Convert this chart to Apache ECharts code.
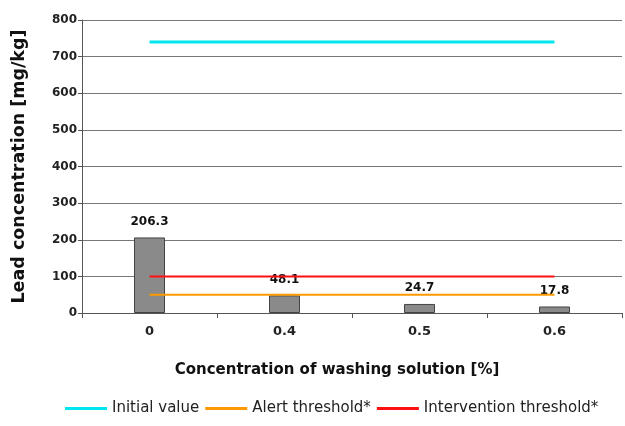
<!DOCTYPE html>
<html><head><meta charset="utf-8">
<script src="https://cdn.jsdelivr.net/npm/echarts@6/dist/echarts.min.js"></script>
<style>html,body{margin:0;padding:0;background:#fff}#c{width:625px;height:426px}</style>
</head><body><div id="c"></div>
<script>
const categories = ["0", "0.4", "0.5", "0.6"];
const leadValues = [206.3, 48.1, 24.7, 17.8];
const initialValue = [740, 740, 740, 740];
const alertThreshold = [50, 50, 50, 50];
const interventionThreshold = [100, 100, 100, 100];
const yTicks = {min: 0, max: 800, interval: 100};

const chart = echarts.init(document.getElementById('c'));
const font = 'DejaVu Sans, Liberation Sans, Arial, sans-serif';
chart.setOption({
  animation: false,
  textStyle: {fontFamily: font},
  grid: {left: 82, right: 3, top: 20, bottom: 113, containLabel: false},
  legend: {
    bottom: 5, left: 60,
    data: ['Initial value', 'Alert threshold*', 'Intervention threshold*'],
    icon: 'rect', itemWidth: 42, itemHeight: 3, itemGap: 6,
    textStyle: {fontSize: 15, color: '#222', fontFamily: font}
  },
  xAxis: {
    type: 'category', data: categories,
    name: 'Concentration of washing solution [%]',
    nameLocation: 'middle', nameGap: 50,
    nameTextStyle: {fontSize: 15, fontWeight: 'bold', color: '#111', padding: [0, 30, 0, 0]},
    axisLine: {lineStyle: {color: '#555', width: 1}},
    axisTick: {show: true, alignWithLabel: false, length: 5, lineStyle: {color: '#555'}},
    axisLabel: {fontSize: 13, fontWeight: 'bold', color: '#222', margin: 12}
  },
  yAxis: {
    type: 'value', min: yTicks.min, max: yTicks.max, interval: yTicks.interval,
    name: 'Lead concentration [mg/kg]',
    nameLocation: 'middle', nameGap: 54, nameRotate: 90,
    nameTextStyle: {fontSize: 17.5, fontWeight: 'bold', color: '#111'},
    axisLine: {show: true, lineStyle: {color: '#555'}},
    axisTick: {show: true, length: 4, lineStyle: {color: '#555'}},
    axisLabel: {fontSize: 12, fontWeight: 'bold', color: '#222', margin: 5},
    splitLine: {lineStyle: {color: '#777', width: 1}}
  },
  series: [
    {
      name: 'Lead', type: 'bar', data: leadValues, barWidth: 31,
      itemStyle: {color: '#8a8a8a', borderColor: '#444', borderWidth: 1},
      label: {show: true, position: 'top', distance: 10, fontSize: 12, fontWeight: 'bold', color: '#111'},
      z: 2
    },
    {
      name: 'Initial value', type: 'line', data: initialValue, symbol: 'none',
      lineStyle: {color: '#00e5ee', width: 3}, itemStyle: {color: '#00e5ee'}, z: 3
    },
    {
      name: 'Alert threshold*', type: 'line', data: alertThreshold, symbol: 'none',
      lineStyle: {color: '#ff9900', width: 2}, itemStyle: {color: '#ff9900'}, z: 3
    },
    {
      name: 'Intervention threshold*', type: 'line', data: interventionThreshold, symbol: 'none',
      lineStyle: {color: '#ff1010', width: 2}, itemStyle: {color: '#ff1010'}, z: 3
    }
  ]
});
</script></body></html>
